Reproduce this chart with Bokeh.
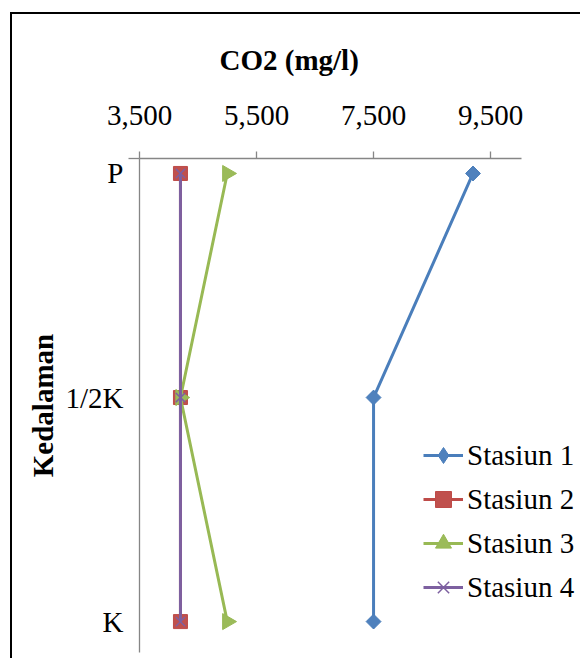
import numpy as np
from bokeh.plotting import figure
from bokeh.models import Range1d, FixedTicker, NumeralTickFormatter, Legend, LegendItem, LinearAxis
from bokeh.embed import file_html
from bokeh.resources import INLINE

# ---- data ----
depth_labels = ["P", "1/2K", "K"]
depth_pos = [0, 1, 2]
x_ticks = [3500, 5500, 7500, 9500]
stasiun1 = [9200, 7500, 7500]
stasiun2 = [4200, 4200, 4200]
stasiun3 = [5000, 4200, 5000]
stasiun4 = [4200, 4200, 4200]
series_names = ["Stasiun 1", "Stasiun 2", "Stasiun 3", "Stasiun 4"]

FONT = "Liberation Serif, Times New Roman, serif"
AXIS_GRAY = "#868686"

p = figure(width=570, height=646, x_axis_location="above",
           x_range=Range1d(3500, 11071), y_range=Range1d(2.138, -0.0668),
           output_backend="svg", toolbar_location=None,
           title="CO2 (mg/l)",
           min_border_left=127, min_border_right=0, min_border_top=143, min_border_bottom=8)
p.styles = {"margin-left": "10px", "margin-top": "12px",
            "border-left": "2px solid #000000", "border-top": "2px solid #000000"}

p.title.text_font = FONT
p.title.text_font_size = "29px"
p.title.text_font_style = "bold"
p.title.align = "left"
p.title.offset = 80
p.title.standoff = 54
p.title.text_color = "#000000"

p.grid.visible = False
p.outline_line_color = None
p.background_fill_color = "white"
p.border_fill_color = "white"

xa = p.xaxis[0]
xa.ticker = FixedTicker(ticks=x_ticks)
xa.formatter = NumeralTickFormatter(format="0,0")
xa.bounds = (3500, 10030)
xa.major_tick_out = 7
xa.major_tick_in = 0
xa.minor_tick_out = 0
xa.minor_tick_in = 0
xa.axis_line_color = AXIS_GRAY
xa.axis_line_width = 1.3
xa.major_tick_line_color = AXIS_GRAY
xa.major_tick_line_width = 1.3
xa.major_label_text_font = FONT
xa.major_label_text_font_size = "29px"
xa.major_label_text_color = "#000000"
xa.major_label_standoff = 27

# inner left axis: axis line plus the single tick at the top edge
ya = p.yaxis[0]
ya.ticker = FixedTicker(ticks=[-0.066])
ya.major_label_overrides = {-0.066: ""}
ya.major_tick_out = 11
ya.major_tick_in = 0
ya.minor_tick_out = 0
ya.minor_tick_in = 0
ya.axis_line_color = AXIS_GRAY
ya.axis_line_width = 1.3
ya.major_tick_line_color = AXIS_GRAY
ya.major_tick_line_width = 1.3
ya.major_label_standoff = 0

# outer left axis: category labels and title
yb = LinearAxis(ticker=FixedTicker(ticks=depth_pos))
yb.major_label_overrides = {pos: lab for pos, lab in zip(depth_pos, depth_labels)}
yb.axis_line_color = None
yb.major_tick_line_color = None
yb.major_tick_out = 0
yb.major_tick_in = 0
yb.minor_tick_out = 0
yb.minor_tick_in = 0
yb.major_label_text_font = FONT
yb.major_label_text_font_size = "29px"
yb.major_label_text_color = "#000000"
yb.major_label_standoff = 5
yb.axis_label = "Kedalaman"
yb.axis_label_text_font = FONT
yb.axis_label_text_font_size = "29px"
yb.axis_label_text_font_style = "bold"
yb.axis_label_text_color = "#000000"
yb.axis_label_standoff = 4
p.add_layout(yb, "left")

items = []
# Stasiun 1: diamond (legend glyph is the diamond, covered in the plot by the rotated square)
r1l = p.line(stasiun1, depth_pos, line_color="#4A7EBB", line_width=3)
r1k = p.scatter(stasiun1, depth_pos, marker="diamond", size=14,
                fill_color="#4F81BD", line_color="#4A7EBB", line_width=1)
r1m = p.scatter(stasiun1, depth_pos, marker="square", angle=np.pi / 4, size=10.5,
                fill_color="#4F81BD", line_color="#4A7EBB", line_width=1)
items.append(LegendItem(label=series_names[0], renderers=[r1l, r1k]))
# Stasiun 2: square
r2l = p.line(stasiun2, depth_pos, line_color="#BE4B48", line_width=3)
r2m = p.scatter(stasiun2, depth_pos, marker="square", size=14,
                fill_color="#C0504D", line_color="#BE4B48", line_width=1)
items.append(LegendItem(label=series_names[1], renderers=[r2l, r2m]))
# Stasiun 3: triangle (rotated in the plot, upright in the legend)
r3l = p.line(stasiun3, depth_pos, line_color="#98B954", line_width=3)
r3m = p.scatter(stasiun3, depth_pos, marker="triangle", angle=-np.pi / 2, size=16,
                fill_color="#9BBB59", line_color="#98B954", line_width=1)
items.append(LegendItem(label=series_names[2], renderers=[r3l, r3m]))
# Stasiun 4: x
r4l = p.line(stasiun4, depth_pos, line_color="#7D60A0", line_width=3)
r4m = p.scatter(stasiun4, depth_pos, marker="x", size=13,
                line_color="#7D60A0", line_width=1.5)
items.append(LegendItem(label=series_names[3], renderers=[r4l, r4m]))

legend = Legend(items=items, location=(284, 43))
legend.label_text_font = FONT
legend.label_text_font_size = "29px"
legend.label_text_color = "#000000"
legend.glyph_width = 40
legend.glyph_height = 44
legend.label_height = 44
legend.spacing = 0
legend.padding = 0
legend.margin = 0
legend.label_standoff = 4
legend.border_line_color = None
legend.background_fill_alpha = 0
p.add_layout(legend)

open("out.html", "w").write(file_html(p, INLINE))
